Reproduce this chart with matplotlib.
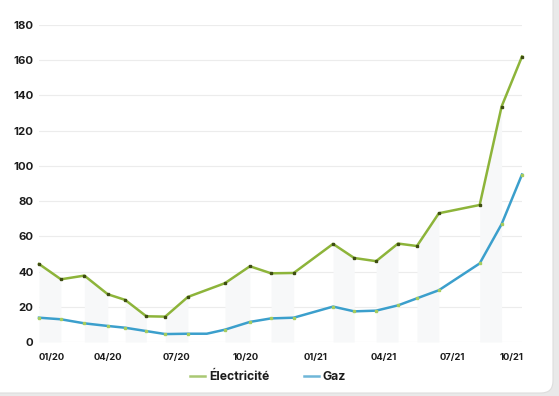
import matplotlib
matplotlib.use("Agg")
import matplotlib.pyplot as plt
from matplotlib.patches import FancyBboxPatch
from matplotlib.lines import Line2D
from matplotlib.transforms import IdentityTransform, ScaledTranslation
import numpy as np
import pandas as pd

# ---- data ----
elec_dates = ["2020-01-01", "2020-01-30", "2020-03-01", "2020-04-01", "2020-04-24",
              "2020-05-22", "2020-06-16", "2020-07-16", "2020-09-03", "2020-10-06",
              "2020-11-03", "2020-12-03", "2021-01-24", "2021-02-21", "2021-03-22",
              "2021-04-20", "2021-05-15", "2021-06-13", "2021-08-06", "2021-09-04",
              "2021-10-01"]
elec_values = [44.3, 35.6, 37.7, 27.1, 23.9, 14.6, 14.4, 25.6, 33.4, 43.0, 39.0,
               39.2, 55.7, 47.7, 45.9, 55.9, 54.5, 73.1, 77.8, 133.7, 162.1]

gaz_dates = ["2020-01-01", "2020-01-30", "2020-03-01", "2020-04-01", "2020-04-24",
             "2020-05-22", "2020-06-16", "2020-07-16", "2020-08-10", "2020-09-03",
             "2020-10-06", "2020-11-03", "2020-12-03", "2021-01-24", "2021-02-21",
             "2021-03-22", "2021-04-20", "2021-05-15", "2021-06-13", "2021-08-06",
             "2021-09-04", "2021-10-01"]
gaz_values = [13.8, 12.9, 10.6, 9.1, 8.1, 6.2, 4.5, 4.7, 4.7, 7.0, 11.4, 13.4,
              13.8, 20.1, 17.4, 17.8, 20.8, 24.8, 29.4, 44.6, 66.9, 95.1]
gaz_marked = [True] * 8 + [False] + [True] * 13

tick_dates = ["2020-01-01", "2020-04-01", "2020-07-01", "2020-10-01",
              "2021-01-01", "2021-04-01", "2021-07-01", "2021-10-01"]
tick_labels = ["01/20", "04/20", "07/20", "10/20", "01/21", "04/21", "07/21", "10/21"]
y_ticks = [0, 20, 40, 60, 80, 100, 120, 140, 160, 180]
series_names = ["Électricité", "Gaz"]

# ---- style ----
GREEN = "#8db43a"
GREEN_MK = "#3e4d12"
BLUE = "#3b9fcc"
BLUE_MK = "#a6cc5e"
TXT = "#1c1c1c"

plt.rcParams["font.family"] = ["Inter", "DejaVu Sans"]

fig = plt.figure(figsize=(5.59, 3.96), dpi=100, facecolor="#e9e9e9")
card = FancyBboxPatch((-20, 3), 573, 420, boxstyle="round,pad=0,rounding_size=12",
                      transform=IdentityTransform(), facecolor="white",
                      edgecolor="#dddddd", linewidth=0.8, zorder=-10)
fig.patches.append(card)

ax = fig.add_axes([39 / 559, 1 - 342 / 396, (522 - 39) / 559, (342 - 25) / 396])
ax.set_facecolor("none")
ax.set_zorder(1)

ed = pd.to_datetime(elec_dates)
gd = pd.to_datetime(gaz_dates)
ev = np.array(elec_values)
gv = np.array(gaz_values)

# very faint vertical stripes under the curves
for i in range(0, len(ed) - 1, 2):
    ax.fill_between(ed[i:i + 2], 0, ev[i:i + 2], color="#f7f8f9", linewidth=0, zorder=1)

ax.plot(ed, ev, color=GREEN, lw=1.8, marker="s", ms=1.9, mfc=GREEN_MK, mec=GREEN_MK,
        clip_on=False, zorder=4)
ax.plot(gd, gv, color=BLUE, lw=1.8, marker="s", ms=1.9, mfc=BLUE_MK, mec=BLUE_MK,
        markevery=gaz_marked, clip_on=False, zorder=3)

ax.set_xlim(ed[0], ed[-1])
ax.set_ylim(0, 180)
ax.set_yticks(y_ticks)
ax.set_yticklabels([str(v) for v in y_ticks], fontsize=8.2, fontweight="bold", color=TXT)
ax.set_xticks(pd.to_datetime(tick_dates))
ax.set_xticklabels(tick_labels, fontsize=6.8, fontweight="bold", color=TXT)
ax.tick_params(axis="both", length=0)
ax.tick_params(axis="y", pad=4)
ax.tick_params(axis="x", pad=8)
xl = ax.get_xticklabels()
xl[0].set_ha("left")
xl[-1].set_ha("right")
xl[-1].set_transform(xl[-1].get_transform() + ScaledTranslation(2 / 100, 0, fig.dpi_scale_trans))

ax.grid(axis="y", color="#ececec", lw=0.8)
ax.grid(axis="x", visible=False)
for s in ax.spines.values():
    s.set_visible(False)
ax.set_axisbelow(True)

handles = [Line2D([], [], color="#a9c873", lw=1.8),
           Line2D([], [], color="#6fb6d8", lw=1.8)]
fig.legend(handles, series_names, loc="center", bbox_to_anchor=(268 / 559, 1 - 377 / 396),
           ncol=2, frameon=False, handlelength=1.25, handletextpad=0.3, columnspacing=2.8,
           prop={"size": 8.8, "weight": "bold"})
for t in fig.legends[0].get_texts():
    t.set_color(TXT)

fig.savefig("out.png", dpi=100, facecolor=fig.get_facecolor())
